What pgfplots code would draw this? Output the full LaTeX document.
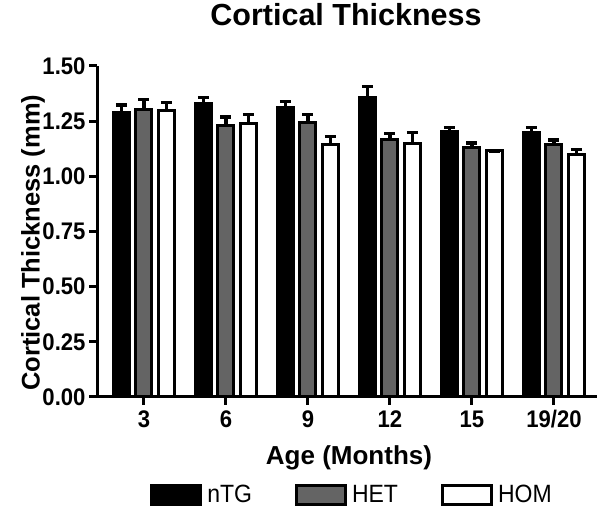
\documentclass[border=0pt]{standalone}
\usepackage{pgfplots}
\pgfplotsset{compat=1.18}
\usepackage{fontspec}
\setmainfont{Liberation Sans}
\newfontfamily\cond{Liberation Sans}[FakeStretch=0.92]
\definecolor{hetgray}{RGB}{100,100,100}
\begin{document}
\begin{tikzpicture}[x=1pt,y=1pt]
\useasboundingbox (0,0) rectangle (600,511);
\begin{axis}[
  at={(97pt,114pt)}, anchor=south west,
  scale only axis, width=500pt, height=331pt,
  xmin=-0.573, xmax=5.525, ymin=0, ymax=1.5,
  clip=false,
  axis x line=bottom, axis y line=left,
  axis line style={line width=3pt, -, black},
  xtick={0,1,2,3,4,5}, xticklabels={3,6,9,12,15,19/20},
  ytick={0,0.25,0.5,0.75,1,1.25,1.5},
  tick align=outside, major tick length=8pt,
  tick style={line width=3pt, black},
  yticklabel style={/pgf/number format/.cd, fixed, fixed zerofill, precision=2, assume math mode=true},
  ticklabel style={font=\cond\bfseries\fontsize{24}{24}\selectfont},
  xticklabel style={yshift=-2pt},
  title={Cortical Thickness},
  title style={font=\bfseries\fontsize{30.5}{30.5}\selectfont, at={(axis description cs:0.498,1.104)}, anchor=base},
  xlabel={Age (Months)},
  xlabel style={font=\bfseries\fontsize{26}{26}\selectfont, at={(axis description cs:0.504,-0.2054)}, anchor=base},
  ylabel={Cortical Thickness (mm)},
  ylabel style={font=\bfseries\fontsize{25.5}{25.5}\selectfont, at={(axis description cs:-0.128,0.466)}, anchor=center},
  ybar, bar width=16pt,
  legend columns=3,
  legend style={at={(axis description cs:0.51,-0.296)}, anchor=center, draw=none, fill=none,
    font=\cond\fontsize{25}{25}\selectfont,
    /tikz/every odd column/.append style={column sep=3pt},
    /tikz/every even column/.append style={column sep=41pt}},
  legend image code/.code={\draw[#1, line width=3pt] (0pt,-9.5pt) rectangle (49pt,9.5pt);},
]
\addplot[ybar, bar shift=-22.5pt, fill=black, draw=black, line width=3pt,
  error bars/.cd, y dir=plus, y explicit,
  error bar style={line width=3.3pt, black},
  error mark options={rotate=90, line width=3.3pt, mark size=5.5pt, black}] coordinates {
 (0,1.290) +- (0,0.033)
 (1,1.330) +- (0,0.028)
 (2,1.310) +- (0,0.028)
 (3,1.357) +- (0,0.050)
 (4,1.205) +- (0,0.017)
 (5,1.198) +- (0,0.022)
};
\addlegendentry{nTG}
\addplot[ybar, bar shift=0pt, fill=hetgray, draw=black, line width=3pt,
  error bars/.cd, y dir=plus, y explicit,
  error bar style={line width=3.3pt, black},
  error mark options={rotate=90, line width=3.3pt, mark size=5.5pt, black}] coordinates {
 (0,1.304) +- (0,0.045)
 (1,1.231) +- (0,0.038)
 (2,1.246) +- (0,0.034)
 (3,1.166) +- (0,0.027)
 (4,1.129) +- (0,0.022)
 (5,1.145) +- (0,0.019)
};
\addlegendentry{HET}
\addplot[ybar, bar shift=22.5pt, fill=white, draw=black, line width=3pt,
  error bars/.cd, y dir=plus, y explicit,
  error bar style={line width=3.3pt, black},
  error mark options={rotate=90, line width=3.3pt, mark size=5.5pt, black}] coordinates {
 (0,1.299) +- (0,0.034)
 (1,1.239) +- (0,0.041)
 (2,1.145) +- (0,0.036)
 (3,1.148) +- (0,0.052)
 (4,1.115) +- (0,0.000)
 (5,1.100) +- (0,0.023)
};
\addlegendentry{HOM}
\end{axis}
\end{tikzpicture}
\end{document}
